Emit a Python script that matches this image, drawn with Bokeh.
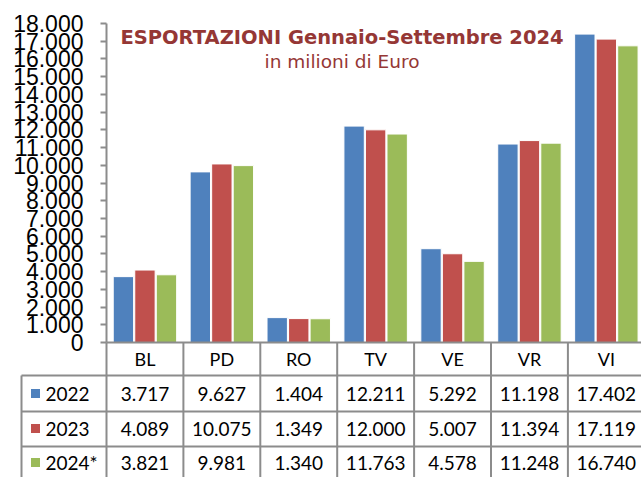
from bokeh.plotting import figure
from bokeh.models import Range1d, LinearAxis, FixedTicker, ColumnDataSource, Label
from bokeh.core.properties import value
from bokeh.embed import file_html
from bokeh.resources import INLINE

# ---- data ----
provinces = ["BL", "PD", "RO", "TV", "VE", "VR", "VI"]
years = ["2022", "2023", "2024*"]
exp_2022 = [3717, 9627, 1404, 12211, 5292, 11198, 17402]
exp_2023 = [4089, 10075, 1349, 12000, 5007, 11394, 17119]
exp_2024 = [3821, 9981, 1340, 11763, 4578, 11248, 16740]
y_ticks = [0, 1000, 2000, 3000, 4000, 5000, 6000, 7000, 8000, 9000,
           10000, 11000, 12000, 13000, 14000, 15000, 16000, 17000, 18000]
y_tick_labels = ["0", "1.000", "2.000", "3.000", "4.000", "5.000", "6.000",
                 "7.000", "8.000", "9.000", "10.000", "11.000", "12.000",
                 "13.000", "14.000", "15.000", "16.000", "17.000", "18.000"]
title_text = "ESPORTAZIONI Gennaio-Settembre 2024"
subtitle_text = "in milioni di Euro"

series = [exp_2022, exp_2023, exp_2024]
colors = ["#4F81BD", "#C0504D", "#9BBB59"]

# ---- geometry (page pixels) ----
W, H = 641, 477
PAGE0 = 0
axis_px = 106            # page x of value axis
zero_px = 342            # page y of 0
top_px = 23              # page y of 18000
U = 18000 / (zero_px - top_px)   # data units per pixel (y)
cat_px = 76.9

def yd(page_y):
    return (zero_px - page_y) * U

def xd(page_x):
    return (page_x - axis_px) / cat_px

x_range = Range1d(xd(PAGE0), xd(PAGE0 + W))
y_range = Range1d(yd(PAGE0 + H), yd(PAGE0))

p = figure(width=W, height=H, x_range=x_range, y_range=y_range,
           output_backend="svg", toolbar_location=None,
           x_axis_location=None, y_axis_location=None,
           min_border=0, min_border_left=0, min_border_right=0,
           min_border_top=0, min_border_bottom=0)
p.outline_line_color = None
p.xgrid.visible = False
p.ygrid.visible = False
p.background_fill_color = "white"

GRAY = "#8C8C8C"

# value axis
ax = LinearAxis(fixed_location=0, ticker=FixedTicker(ticks=y_ticks))
ax.major_label_overrides = {t: l for t, l in zip(y_ticks, y_tick_labels)}
ax.bounds = (0, 18000)
ax.axis_line_color = GRAY
ax.axis_line_width = 2
ax.major_tick_line_color = GRAY
ax.major_tick_line_width = 2
ax.major_tick_in = 0
ax.major_tick_out = 6
ax.minor_tick_line_color = None
ax.major_label_standoff = 17
ax.major_label_text_font = "Liberation Sans"
ax.major_label_text_font_size = "23px"
ax.major_label_text_color = "black"
p.add_layout(ax, "left")

# bars
n = len(provinces)
centers = [i + 0.5 for i in range(n)]
offsets = [-0.28, 0.0, 0.28]
for vals, col, off in zip(series, colors, offsets):
    src = ColumnDataSource(dict(x=[c + off for c in centers], top=vals))
    p.vbar(x="x", top="top", width=0.265, bottom=0, source=src,
           fill_color=col, line_color="white", line_width=1)

# table lines
legend_left = xd(21)
row_lines = [yd(375), yd(411), yd(446)]
bottom = yd(PAGE0 + H)
# horizontal
p.segment(x0=[0], y0=[0], x1=[n], y1=[0], line_color=GRAY, line_width=2)
p.segment(x0=[legend_left] * 3, y0=row_lines, x1=[n] * 3, y1=row_lines,
          line_color=GRAY, line_width=2)
# vertical
vx = list(range(0, n + 1))
p.segment(x0=vx, y0=[0] * len(vx), x1=vx, y1=[bottom] * len(vx),
          line_color=GRAY, line_width=2)
p.segment(x0=[legend_left], y0=[row_lines[0]], x1=[legend_left], y1=[bottom],
          line_color=GRAY, line_width=2)

# header labels
p.text(x=centers, y=[yd(358)] * n, text=provinces,
       text_align="center", text_baseline="middle",
       text_font=value("Lato"), text_font_size="18px", text_color="black")

# table values
row_centers = [yd(393), yd(428), yd(462)]
def fmt(v):
    return f"{v:,}".replace(",", ".")
for vals, yc in zip(series, row_centers):
    p.text(x=centers, y=[yc] * n, text=[fmt(v) for v in vals],
           text_align="center", text_baseline="middle",
           text_font=value("Lato"), text_font_size="19px", text_color="black")

# legend keys in table
p.scatter(x=[xd(35)] * 3, y=row_centers, marker="square", size=9,
          fill_color=colors, line_color=None)
p.text(x=[xd(45)] * 3, y=row_centers, text=years,
       text_align="left", text_baseline="middle",
       text_font=value("Lato"), text_font_size="19px", text_color="black")

# titles
p.add_layout(Label(x=xd(341.5), y=yd(37), text=title_text,
                   text_align="center", text_baseline="middle",
                   text_font="DejaVu Sans", text_font_style="bold",
                   text_font_size="19.5px", text_color="#953735"))
p.add_layout(Label(x=xd(341.5), y=yd(61), text=subtitle_text,
                   text_align="center", text_baseline="middle",
                   text_font="DejaVu Sans", text_font_size="18.5px",
                   text_color="#953735"))

open("out.html", "w").write(file_html(p, INLINE))
